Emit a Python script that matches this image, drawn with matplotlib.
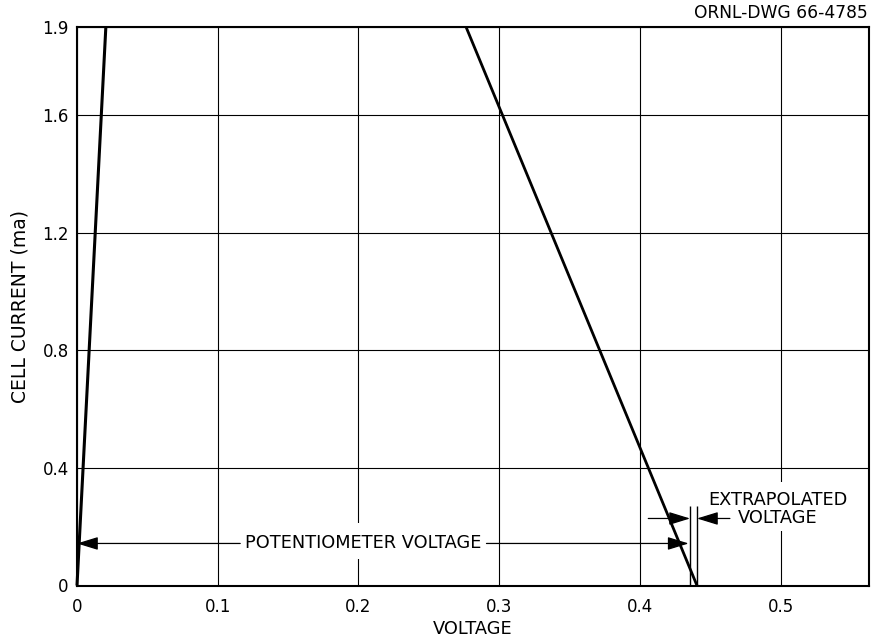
import matplotlib
matplotlib.use("Agg")
import matplotlib.pyplot as plt
from matplotlib.patches import Rectangle

# Cell current vs. voltage, with the potentiometer and extrapolated readings
steep_voltage = [0.0, 0.0205]
steep_current = [0.0, 1.9]
cell_voltage = [0.2765, 0.4406]
cell_current = [1.9, 0.0]

potentiometer_v = 0.4357
extrapolated_v = 0.4406
marker_top = 0.27
pot_arrow_y = 0.143
extr_arrow_y = 0.228

x_ticks = [0.0, 0.1, 0.2, 0.3, 0.4, 0.5]
x_tick_labels = ["0", "0.1", "0.2", "0.3", "0.4", "0.5"]
y_ticks = [0.0, 0.4, 0.8, 1.2, 1.6, 1.9]
y_tick_labels = ["0", "0.4", "0.8", "1.2", "1.6", "1.9"]

plt.rcParams["font.family"] = ["DejaVu Sans"]

fig = plt.figure(figsize=(8.71, 6.40), dpi=100)
ax = fig.add_axes([77 / 871, 54.5 / 640, 791.5 / 871, 558.5 / 640])

ax.set_xlim(0, 0.5625)
ax.set_ylim(0, 1.9)
ax.set_xticks(x_ticks)
ax.set_xticklabels(x_tick_labels)
ax.set_yticks(y_ticks)
ax.set_yticklabels(y_tick_labels)
ax.tick_params(axis="both", length=0, labelsize=12, colors="black")
ax.tick_params(axis="x", pad=9)
ax.tick_params(axis="y", pad=6)
ax.grid(True, color="black", linewidth=0.8, zorder=0)
ax.set_axisbelow(True)
for s in ax.spines.values():
    s.set_linewidth(1.5)

ax.set_xlabel("VOLTAGE", fontsize=12.8, labelpad=3)
ax.set_ylabel("CELL CURRENT (ma)", fontsize=13.5, labelpad=9)

# white panels behind the annotation text hide the grid there
ax.add_patch(Rectangle((0.117, 0.091), 0.172, 0.12, facecolor="white",
                       edgecolor="none", zorder=1.5))
ax.add_patch(Rectangle((0.446, 0.187), 0.102, 0.165, facecolor="white",
                       edgecolor="none", zorder=1.5))

ax.plot(steep_voltage, steep_current, color="black", linewidth=2.2,
        solid_capstyle="butt", zorder=3, clip_on=False)
ax.plot(cell_voltage, cell_current, color="black", linewidth=2.0,
        solid_capstyle="butt", zorder=3, clip_on=False)

ax.vlines([potentiometer_v, extrapolated_v], 0, marker_top, color="black",
          linewidth=1.0, zorder=3)

arrow = dict(arrowstyle="-|>,head_length=1.3,head_width=0.4",
             color="black", linewidth=0.9, shrinkA=0, shrinkB=0)

ax.text(0.2035, pot_arrow_y, "POTENTIOMETER VOLTAGE", fontsize=12.8,
        ha="center", va="center", zorder=4)
ax.annotate("", xy=(0.0, pot_arrow_y), xytext=(0.116, pot_arrow_y),
            arrowprops=arrow, zorder=4)
ax.annotate("", xy=(potentiometer_v - 0.001, pot_arrow_y),
            xytext=(0.291, pot_arrow_y), arrowprops=arrow, zorder=4)

ax.annotate("", xy=(potentiometer_v, extr_arrow_y), xytext=(0.406, extr_arrow_y),
            arrowprops=arrow, zorder=4)
ax.annotate("", xy=(extrapolated_v, extr_arrow_y), xytext=(0.464, extr_arrow_y),
            arrowprops=arrow, zorder=4)
ax.text(0.498, 0.259, "EXTRAPOLATED\nVOLTAGE", fontsize=12.8, ha="center",
        va="center", linespacing=1.0, zorder=4)

fig.text(868 / 871, 1 - 13 / 640, "ORNL-DWG 66-4785", fontsize=12.3,
         ha="right", va="center")

fig.savefig("out.png", dpi=100, facecolor="white")
